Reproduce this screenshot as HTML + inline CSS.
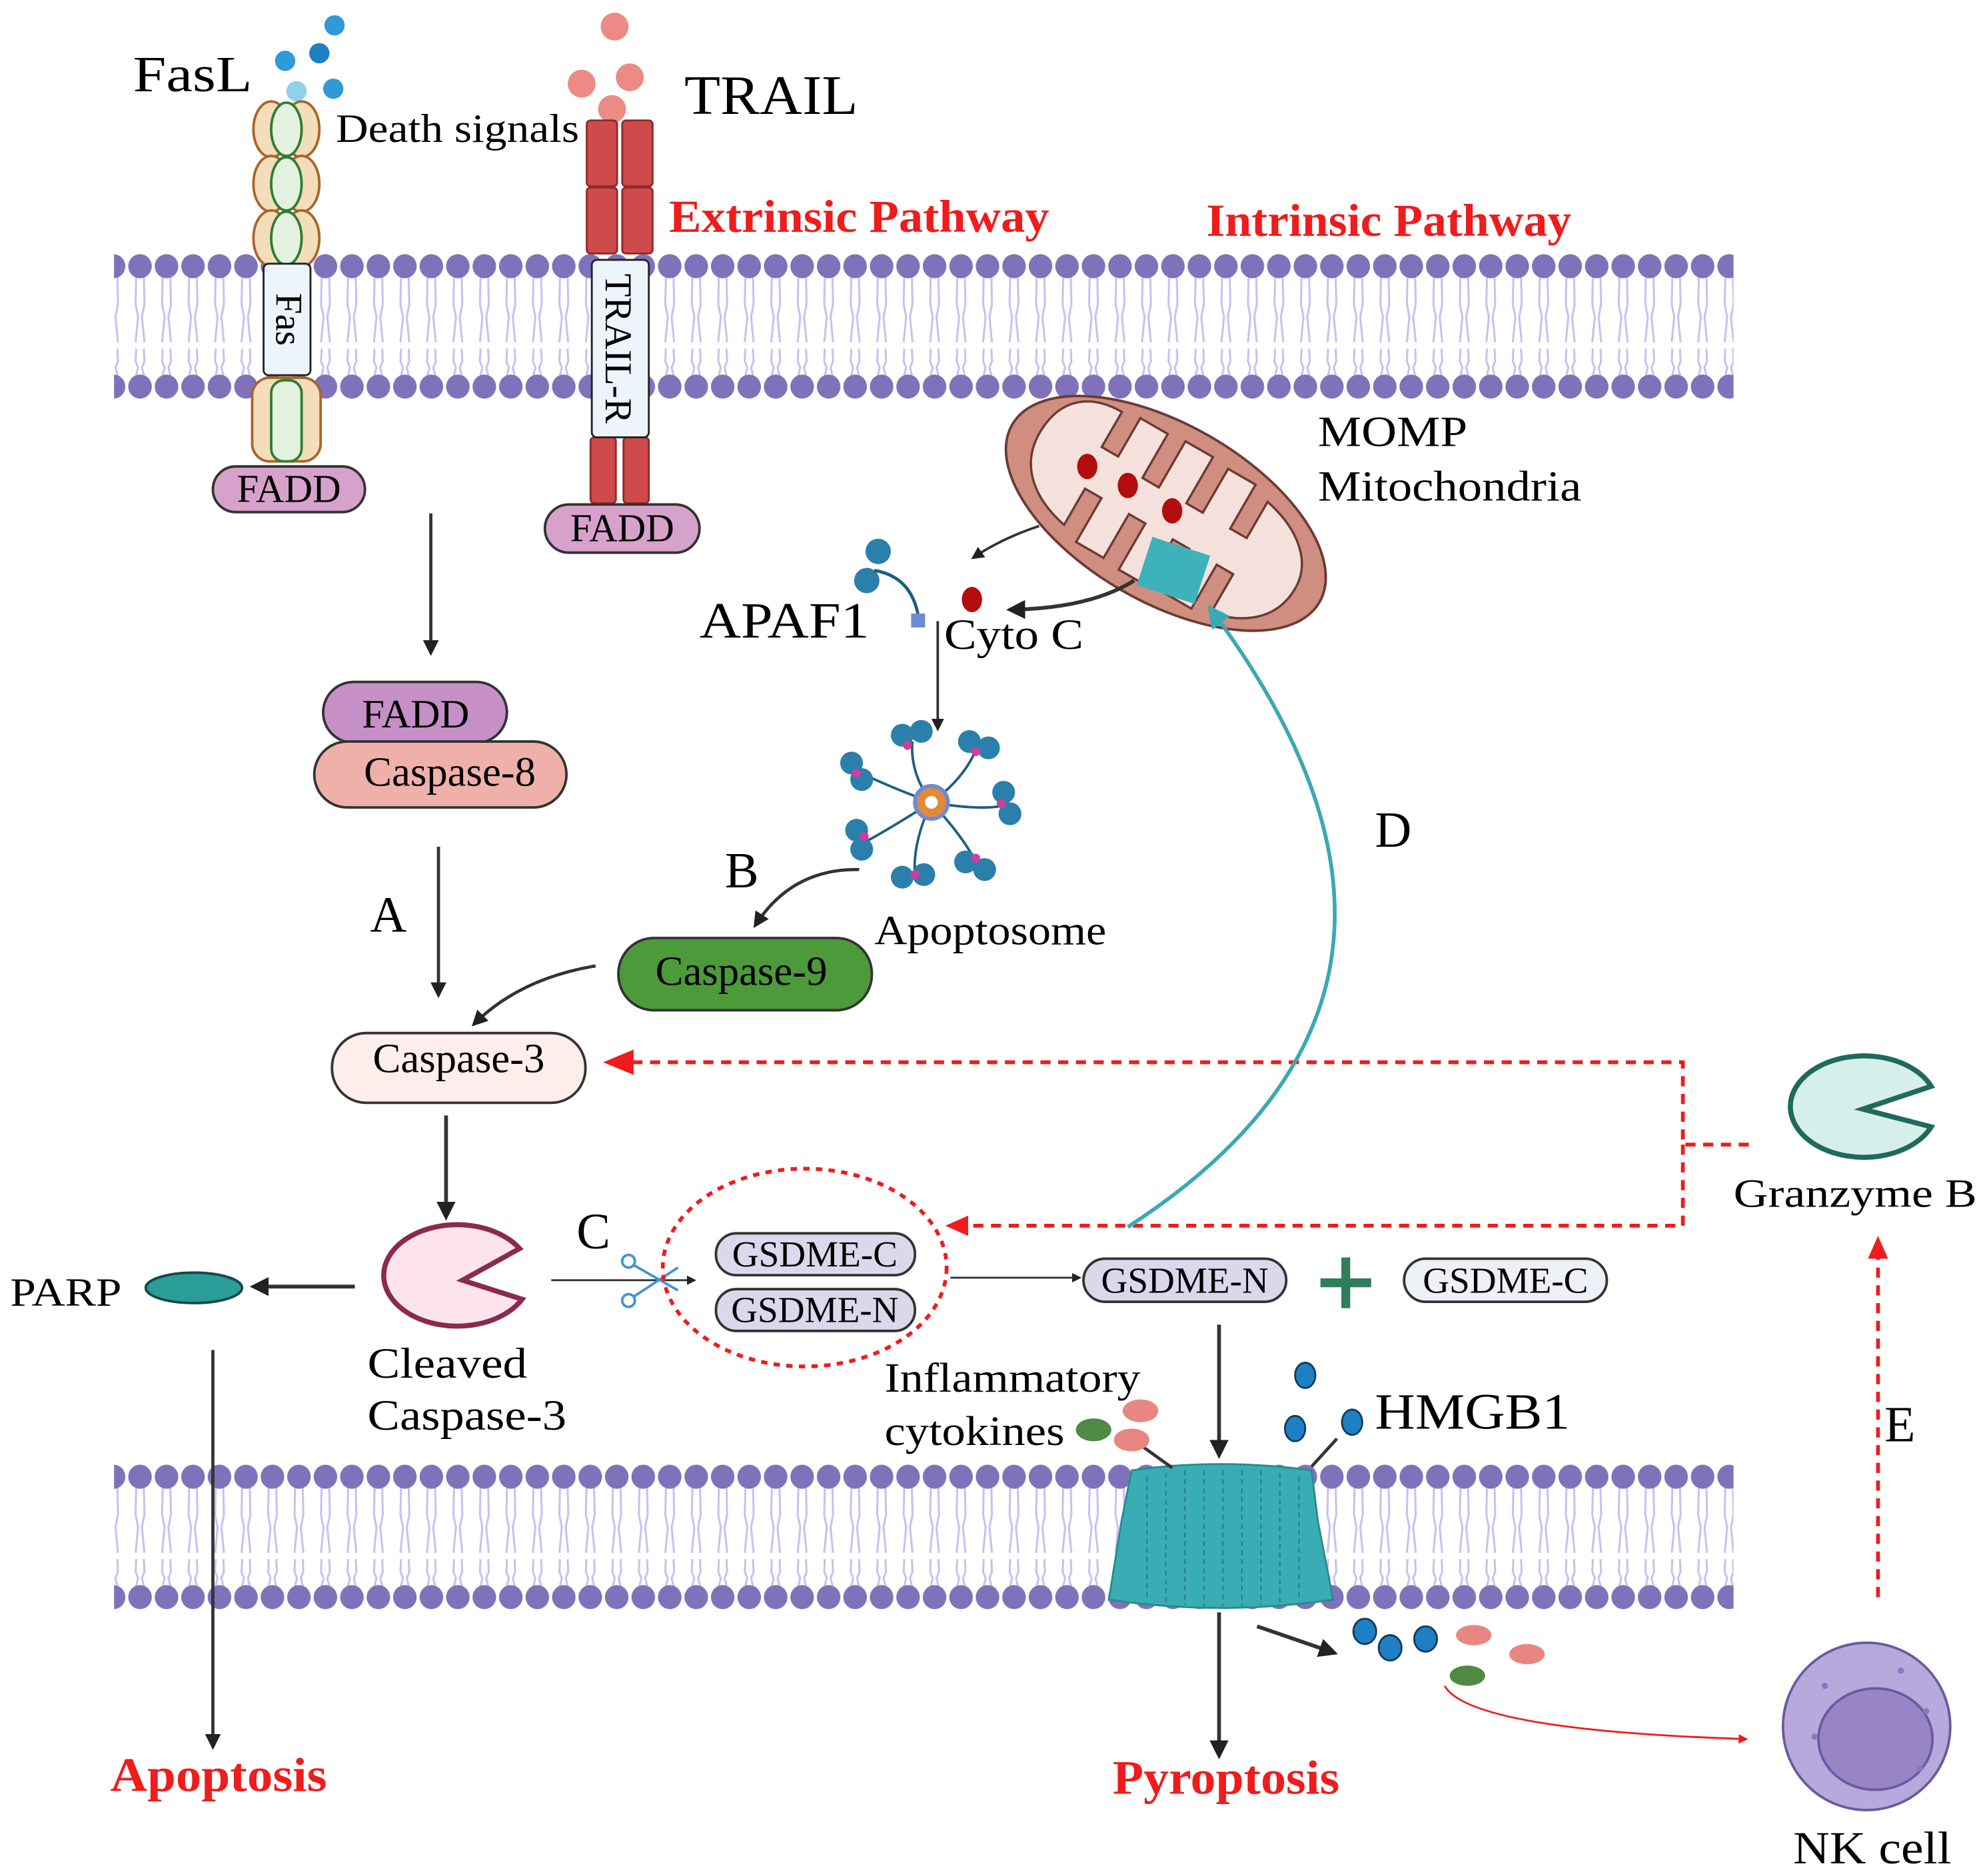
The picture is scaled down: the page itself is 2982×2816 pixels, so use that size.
<!DOCTYPE html>
<html><head><meta charset="utf-8"><style>html,body{margin:0;padding:0;background:#fff}svg{display:block}text{font-family:"Liberation Serif",serif}</style></head>
<body>
<svg width="2982" height="2816" viewBox="0 0 1568 1480" preserveAspectRatio="none" xmlns="http://www.w3.org/2000/svg">
<defs>
<pattern id="mem" x="100" y="0" width="20.9" height="1480" patternUnits="userSpaceOnUse">
<g stroke="#c9bff0" stroke-width="1.6" fill="none">
<path d="M7.5 218 L7 240 L9 250 L7 270 M13.5 218 L14 240 L12 250 L14 270"/>
<path d="M7.5 275 L7 285 L9 290 L7 298 M13.5 275 L14 285 L12 290 L14 298"/>
</g>
<ellipse cx="10.5" cy="210" rx="9.3" ry="9.5" fill="#7f72ba"/>
<ellipse cx="10.5" cy="305" rx="9.3" ry="9.5" fill="#7f72ba"/>
</pattern>
<pattern id="mem2" x="100" y="955" width="20.9" height="1480" patternUnits="userSpaceOnUse">
<g stroke="#c9bff0" stroke-width="1.6" fill="none">
<path d="M7.5 218 L7 240 L9 250 L7 270 M13.5 218 L14 240 L12 250 L14 270"/>
<path d="M7.5 275 L7 285 L9 290 L7 298 M13.5 275 L14 285 L12 290 L14 298"/>
</g>
<ellipse cx="10.5" cy="210" rx="9.3" ry="9.5" fill="#7f72ba"/>
<ellipse cx="10.5" cy="305" rx="9.3" ry="9.5" fill="#7f72ba"/>
</pattern>
<marker id="ah" viewBox="0 0 10 10" refX="8" refY="5" markerWidth="5" markerHeight="5" orient="auto"><path d="M0 0 L10 5 L0 10 Z" fill="#222"/></marker>
<marker id="ahr" viewBox="0 0 10 10" refX="8" refY="5" markerWidth="5" markerHeight="5" orient="auto"><path d="M0 0 L10 5 L0 10 Z" fill="#ee1c1c"/></marker>
<marker id="aht" viewBox="0 0 10 10" refX="8" refY="5" markerWidth="6" markerHeight="6" orient="auto"><path d="M0 0 L10 5 L0 10 Z" fill="#3aa9b3"/></marker>
</defs>
<rect width="1568" height="1480" fill="#fff"/>
<rect x="90" y="198" width="1278" height="120" fill="url(#mem)"/>
<rect x="90" y="1153" width="1278" height="120" fill="url(#mem2)"/>

<text x="105" y="72" font-size="40" textLength="94" lengthAdjust="spacingAndGlyphs">FasL</text>
<g fill="#2e9ad6"><circle cx="225" cy="48" r="8"/><circle cx="252" cy="42" r="8" fill="#1f7fc4"/><circle cx="264" cy="20" r="8"/><circle cx="234" cy="72" r="8" fill="#8fd0ec"/><circle cx="263" cy="70" r="8"/></g>
<text x="265" y="112" font-size="32" textLength="192" lengthAdjust="spacingAndGlyphs">Death signals</text>
<g stroke="#a8652a" stroke-width="2" fill="#f3ddbb">
<ellipse cx="214" cy="102" rx="14" ry="22"/><ellipse cx="238" cy="102" rx="14" ry="22"/>
<ellipse cx="214" cy="145" rx="14" ry="22"/><ellipse cx="238" cy="145" rx="14" ry="22"/>
<ellipse cx="214" cy="188" rx="14" ry="22"/><ellipse cx="238" cy="188" rx="14" ry="22"/>
<rect x="199" y="298" width="54" height="66" rx="14"/>
</g>
<g stroke="#2e7d32" stroke-width="2" fill="#e3f2df">
<ellipse cx="226" cy="102" rx="12" ry="21"/><ellipse cx="226" cy="145" rx="12" ry="21"/><ellipse cx="226" cy="188" rx="12" ry="21"/>
<rect x="214" y="300" width="24" height="64" rx="10"/>
</g>
<rect x="208" y="208" width="37" height="88" rx="4" fill="#eef4fc" stroke="#222" stroke-width="1.5"/>
<text transform="translate(218,252) rotate(90)" font-size="30" text-anchor="middle">Fas</text>
<rect x="168" y="368" width="120" height="36" rx="18" fill="#d6a2cc" stroke="#333" stroke-width="2"/>
<text x="228" y="396" font-size="31" text-anchor="middle">FADD</text>

<g fill="#ec8a86"><circle cx="485" cy="21" r="11"/><circle cx="459" cy="66" r="11"/><circle cx="497" cy="61" r="11"/><circle cx="483" cy="86" r="11"/></g>
<text x="540" y="90" font-size="44" textLength="137" lengthAdjust="spacingAndGlyphs">TRAIL</text>
<g fill="#cf4a4a" stroke="#8e2b2b" stroke-width="1.5">
<rect x="463" y="95" width="24" height="52" rx="3"/><rect x="491" y="95" width="24" height="52" rx="3"/>
<rect x="463" y="148" width="24" height="52" rx="3"/><rect x="491" y="148" width="24" height="52" rx="3"/>
<rect x="466" y="345" width="20" height="52" rx="3"/><rect x="492" y="345" width="20" height="52" rx="3"/>
</g>
<rect x="467" y="205" width="45" height="140" rx="4" fill="#eef4fc" stroke="#222" stroke-width="1.5"/>
<text transform="translate(478,275) rotate(90)" font-size="30" text-anchor="middle">TRAIL-R</text>
<rect x="430" y="398" width="122" height="38" rx="19" fill="#d6a2cc" stroke="#333" stroke-width="2"/>
<text x="491" y="427" font-size="31" text-anchor="middle">FADD</text>

<text x="528" y="183" font-size="36" font-weight="bold" fill="#ee1c1c" textLength="300" lengthAdjust="spacingAndGlyphs">Extrinsic Pathway</text>
<text x="952" y="186" font-size="36" font-weight="bold" fill="#ee1c1c" textLength="288" lengthAdjust="spacingAndGlyphs">Intrinsic Pathway</text>

<line x1="340" y1="405" x2="340" y2="515" stroke="#333" stroke-width="2.5" marker-end="url(#ah)"/>
<rect x="255" y="538" width="145" height="48" rx="24" fill="#c68fc6" stroke="#333" stroke-width="2"/>
<text x="328" y="574" font-size="32" text-anchor="middle">FADD</text>
<rect x="248" y="585" width="199" height="52" rx="26" fill="#f0b0aa" stroke="#333" stroke-width="2"/>
<text x="355" y="620" font-size="33" text-anchor="middle">Caspase-8</text>
<line x1="346" y1="668" x2="346" y2="785" stroke="#333" stroke-width="2.5" marker-end="url(#ah)"/>
<text x="292" y="735" font-size="40">A</text>

<g transform="translate(920,405) rotate(30)">
<ellipse cx="0" cy="0" rx="140" ry="70" fill="#cf8e80" stroke="#6b3b33" stroke-width="2"/>
<path d="M-118 -5 C-118 -40 -95 -52 -70 -52 L-70 -20 L-55 -20 L-55 -55 L-30 -55 L-30 -15 L-15 -15 L-15 -57 L10 -57 L10 -15 L25 -15 L25 -55 L50 -55 L50 -15 L65 -15 L65 -48 C95 -42 118 -25 118 0 C118 30 95 45 70 50 L70 15 L55 15 L55 55 L30 55 L30 15 L15 15 L15 57 L-10 57 L-10 15 L-25 15 L-25 55 L-50 55 L-50 15 L-65 15 L-65 48 C-95 42 -118 25 -118 -5 Z" fill="#f5e1dc" stroke="#6b3b33" stroke-width="1.8"/>
</g>
<g fill="#b30d0d"><ellipse cx="858" cy="368" rx="8" ry="10"/><ellipse cx="890" cy="383" rx="8" ry="10"/><ellipse cx="925" cy="403" rx="8" ry="10"/><ellipse cx="767" cy="473" rx="8" ry="10"/></g>
<rect x="902" y="430" width="48" height="40" fill="#3eb2b9" transform="rotate(18 926 450)"/>
<text x="1040" y="352" font-size="34" textLength="118" lengthAdjust="spacingAndGlyphs">MOMP</text>
<text x="1040" y="395" font-size="34" textLength="208" lengthAdjust="spacingAndGlyphs">Mitochondria</text>
<path d="M820 415 Q790 425 768 440" stroke="#333" stroke-width="2" fill="none" marker-end="url(#ah)"/>
<path d="M895 458 Q860 480 797 481" stroke="#333" stroke-width="3" fill="none" marker-end="url(#ah)"/>

<text x="552" y="503" font-size="40" textLength="134" lengthAdjust="spacingAndGlyphs">APAF1</text>
<g fill="#2a7fab"><circle cx="693" cy="435" r="10"/><circle cx="684" cy="458" r="10"/></g>
<path d="M690 450 Q720 455 725 488" stroke="#1d5f80" stroke-width="2.5" fill="none"/>
<rect x="719" y="484" width="11" height="11" fill="#6e8ad6"/>
<text x="745" y="512" font-size="34" textLength="110" lengthAdjust="spacingAndGlyphs">Cyto C</text>
<line x1="740" y1="490" x2="740" y2="575" stroke="#333" stroke-width="2" marker-end="url(#ah)"/>

<g stroke="#1d5f80" stroke-width="2" fill="none">
<path d="M735 633 Q718 610 720 585"/><path d="M735 633 Q760 615 770 592"/><path d="M735 633 Q775 640 795 635"/>
<path d="M735 633 Q760 660 770 680"/><path d="M735 633 Q720 665 722 690"/><path d="M735 633 Q700 655 685 663"/><path d="M735 633 Q700 620 680 610"/>
</g>
<g fill="#2a7fab">
<circle cx="712" cy="580" r="9"/><circle cx="727" cy="577" r="9"/>
<circle cx="765" cy="585" r="9"/><circle cx="780" cy="590" r="9"/>
<circle cx="792" cy="625" r="9"/><circle cx="797" cy="642" r="9"/>
<circle cx="762" cy="680" r="9"/><circle cx="777" cy="686" r="9"/>
<circle cx="712" cy="692" r="9"/><circle cx="729" cy="690" r="9"/>
<circle cx="676" cy="655" r="9"/><circle cx="680" cy="670" r="9"/>
<circle cx="672" cy="602" r="9"/><circle cx="680" cy="615" r="9"/>
</g>
<g fill="#d23c9a"><circle cx="716" cy="588" r="3.5"/><circle cx="770" cy="593" r="3.5"/><circle cx="790" cy="634" r="3.5"/><circle cx="770" cy="677" r="3.5"/><circle cx="722" cy="690" r="3.5"/><circle cx="682" cy="660" r="3.5"/><circle cx="676" cy="610" r="3.5"/></g>
<circle cx="735" cy="633" r="13" fill="#e08a3a" stroke="#6e8ad6" stroke-width="3"/>
<circle cx="735" cy="633" r="5" fill="#fff"/>
<text x="690" y="745" font-size="33" textLength="183" lengthAdjust="spacingAndGlyphs">Apoptosome</text>

<text x="572" y="700" font-size="40">B</text>
<path d="M678 686 Q625 685 596 730" stroke="#333" stroke-width="2.5" fill="none" marker-end="url(#ah)"/>
<rect x="488" y="740" width="200" height="57" rx="28" fill="#4c9a3a" stroke="#333" stroke-width="2"/>
<text x="585" y="777" font-size="33" text-anchor="middle">Caspase-9</text>
<path d="M470 762 Q410 772 374 808" stroke="#333" stroke-width="2.5" fill="none" marker-end="url(#ah)"/>

<rect x="262" y="815" width="200" height="55" rx="27" fill="#fdeeec" stroke="#333" stroke-width="2"/>
<text x="362" y="846" font-size="33" text-anchor="middle">Caspase-3</text>

<g stroke="#ee1c1c" stroke-width="3" stroke-dasharray="8,6" fill="none">
<polyline points="1380,903 1328,903 1328,838 488,838"/>
<polyline points="1328,903 1328,967 760,967"/>
<line x1="1482" y1="1260" x2="1482" y2="985"/>
</g>
<path d="M476 838 L500 828 L500 848 Z" fill="#ee1c1c"/>
<path d="M746 967 L764 959 L764 975 Z" fill="#ee1c1c"/>
<path d="M1482 975 L1474 993 L1490 993 Z" fill="#ee1c1c"/>
<text x="1487" y="1137" font-size="40">E</text>

<path d="M1524 852 A58 40 0 1 0 1524 884 L1470 870 Z" fill="#d7efea" stroke="#1f6a5c" stroke-width="4" transform="translate(0,5)"/>
<text x="1368" y="952" font-size="32" textLength="192" lengthAdjust="spacingAndGlyphs">Granzyme B</text>

<line x1="352" y1="880" x2="352" y2="960" stroke="#333" stroke-width="3" marker-end="url(#ah)"/>
<path d="M410 985 A58 40 0 1 0 412 1025 L365 1010 Z" fill="#fde4ec" stroke="#8a2a4e" stroke-width="4"/>
<text x="290" y="1087" font-size="34" textLength="126" lengthAdjust="spacingAndGlyphs">Cleaved</text>
<text x="290" y="1128" font-size="34" textLength="157" lengthAdjust="spacingAndGlyphs">Caspase-3</text>
<text x="8" y="1030" font-size="32" textLength="88" lengthAdjust="spacingAndGlyphs">PARP</text>
<ellipse cx="153" cy="1016" rx="38" ry="12" fill="#2a9d98" stroke="#134a47" stroke-width="2"/>
<line x1="280" y1="1015" x2="200" y2="1015" stroke="#333" stroke-width="3" marker-end="url(#ah)"/>
<line x1="168" y1="1065" x2="168" y2="1378" stroke="#333" stroke-width="2.5" marker-end="url(#ah)"/>
<text x="87" y="1413" font-size="38" font-weight="bold" fill="#ee1c1c" textLength="171" lengthAdjust="spacingAndGlyphs">Apoptosis</text>

<text x="455" y="985" font-size="40">C</text>
<line x1="435" y1="1010" x2="548" y2="1010" stroke="#333" stroke-width="1.5" marker-end="url(#ah)"/>
<g stroke="#3f95d0" stroke-width="2" fill="none"><circle cx="496" cy="995" r="5"/><circle cx="496" cy="1026" r="5"/><path d="M500 998 L535 1018 M500 1023 L535 1000"/></g>
<ellipse cx="635" cy="1000" rx="112" ry="78" fill="none" stroke="#ee1c1c" stroke-width="3" stroke-dasharray="5,5"/>
<rect x="565" y="973" width="157" height="33" rx="16" fill="#dcd8ec" stroke="#333" stroke-width="2"/>
<text x="643" y="999" font-size="29" text-anchor="middle">GSDME-C</text>
<rect x="565" y="1017" width="157" height="33" rx="16" fill="#dcd8ec" stroke="#333" stroke-width="2"/>
<text x="643" y="1043" font-size="29" text-anchor="middle">GSDME-N</text>
<line x1="750" y1="1008" x2="852" y2="1008" stroke="#333" stroke-width="1.5" marker-end="url(#ah)"/>
<rect x="855" y="993" width="160" height="34" rx="17" fill="#dcd8ec" stroke="#333" stroke-width="2"/>
<text x="935" y="1020" font-size="29" text-anchor="middle">GSDME-N</text>
<path d="M1062 992 V1032 M1042 1012 H1082" stroke="#2e7d5b" stroke-width="7"/>
<rect x="1108" y="993" width="160" height="34" rx="17" fill="#eef0f8" stroke="#333" stroke-width="2"/>
<text x="1188" y="1020" font-size="29" text-anchor="middle">GSDME-C</text>

<path d="M890 968 Q1180 780 955 480" stroke="#3aa9b3" stroke-width="3" fill="none" marker-end="url(#aht)"/>
<text x="1085" y="668" font-size="40">D</text>

<line x1="962" y1="1045" x2="962" y2="1148" stroke="#333" stroke-width="3" marker-end="url(#ah)"/>
<path d="M893 1160 Q963 1150 1035 1160 L1040 1200 L1052 1262 Q963 1275 875 1262 L885 1200 Z" fill="#3aacb3" stroke="#2a8a90" stroke-width="1.5"/>
<g stroke="#237c82" stroke-width="1" stroke-dasharray="4,3">
<path d="M905 1165 V1262 M920 1162 V1265 M935 1160 V1266 M950 1160 V1267 M965 1160 V1267 M980 1160 V1267 M995 1160 V1266 M1010 1162 V1265 M1025 1165 V1262"/>
</g>
<line x1="900" y1="1140" x2="925" y2="1158" stroke="#333" stroke-width="2.5"/>
<line x1="1055" y1="1135" x2="1035" y2="1157" stroke="#333" stroke-width="2.5"/>
<text x="698" y="1098" font-size="33" textLength="202" lengthAdjust="spacingAndGlyphs">Inflammatory</text>
<text x="698" y="1140" font-size="33" textLength="142" lengthAdjust="spacingAndGlyphs">cytokines</text>
<ellipse cx="900" cy="1113" rx="14" ry="9" fill="#e88782"/><ellipse cx="893" cy="1136" rx="14" ry="9" fill="#e88782"/><ellipse cx="863" cy="1128" rx="14" ry="9" fill="#4f8a45"/>
<g fill="#1f7fc4" stroke="#143b5a" stroke-width="1.5"><ellipse cx="1030" cy="1085" rx="8" ry="10"/><ellipse cx="1022" cy="1127" rx="8" ry="10"/><ellipse cx="1067" cy="1122" rx="8" ry="10"/></g>
<text x="1085" y="1127" font-size="40" textLength="154" lengthAdjust="spacingAndGlyphs">HMGB1</text>

<line x1="962" y1="1272" x2="962" y2="1385" stroke="#333" stroke-width="3" marker-end="url(#ah)"/>
<text x="878" y="1415" font-size="38" font-weight="bold" fill="#ee1c1c" textLength="179" lengthAdjust="spacingAndGlyphs">Pyroptosis</text>
<line x1="992" y1="1283" x2="1053" y2="1304" stroke="#333" stroke-width="3" marker-end="url(#ah)"/>
<g fill="#1f7fc4" stroke="#143b5a" stroke-width="1.5"><ellipse cx="1077" cy="1287" rx="9" ry="10"/><ellipse cx="1097" cy="1300" rx="9" ry="10"/><ellipse cx="1125" cy="1293" rx="9" ry="10"/></g>
<ellipse cx="1163" cy="1290" rx="14" ry="8" fill="#e88782"/><ellipse cx="1205" cy="1305" rx="14" ry="8" fill="#e88782"/><ellipse cx="1158" cy="1322" rx="14" ry="8" fill="#4f8a45"/>
<path d="M1140 1330 Q1160 1365 1378 1372" stroke="#ee1c1c" stroke-width="1.5" fill="none" marker-end="url(#ahr)"/>

<circle cx="1473" cy="1362" r="66" fill="#b7a9dc" stroke="#6a5aa0" stroke-width="2"/>
<ellipse cx="1480" cy="1372" rx="45" ry="40" fill="#9a84c8" stroke="#6a5aa0" stroke-width="2"/>
<g fill="#8a78c0"><circle cx="1440" cy="1330" r="2.5"/><circle cx="1500" cy="1318" r="2.5"/><circle cx="1520" cy="1350" r="2.5"/><circle cx="1432" cy="1370" r="2.5"/><circle cx="1515" cy="1395" r="2.5"/></g>
<text x="1415" y="1470" font-size="36" textLength="125" lengthAdjust="spacingAndGlyphs">NK cell</text>
</svg>
</body></html>
